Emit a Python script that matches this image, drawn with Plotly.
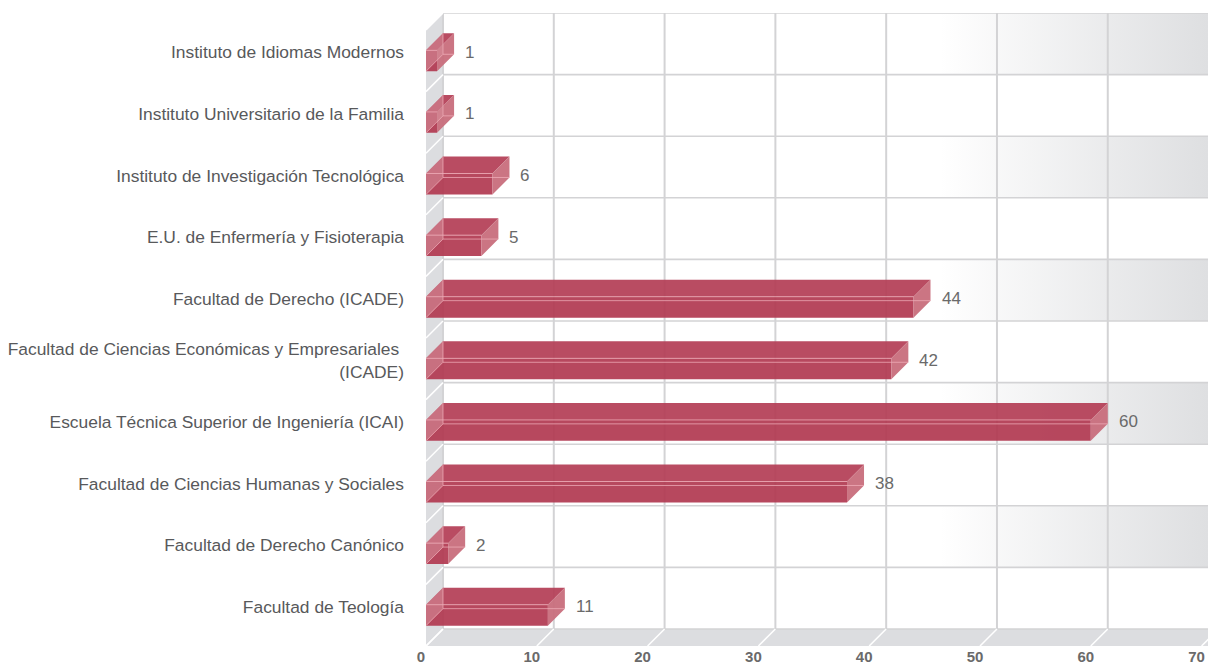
import plotly.graph_objects as go

# ---------------- data ----------------
categories = [
    "Instituto de Idiomas Modernos",
    "Instituto Universitario de la Familia",
    "Instituto de Investigación Tecnológica",
    "E.U. de Enfermería y Fisioterapia",
    "Facultad de Derecho (ICADE)",
    "Facultad de Ciencias Económicas y Empresariales\u00a0<br>(ICADE)",
    "Escuela Técnica Superior de Ingeniería (ICAI)",
    "Facultad de Ciencias Humanas y Sociales",
    "Facultad de Derecho Canónico",
    "Facultad de Teología",
]
values = [1, 1, 6, 5, 44, 42, 60, 38, 2, 11]
x_ticks = [0, 10, 20, 30, 40, 50, 60, 70]

# ---------------- geometry (pseudo 3D) ----------------
X_MAX = 70.58          # visible x range of the front plane
DX = 1.534             # depth offset along x (data units)
DY = 0.276             # depth offset along y (category units)
BAR_H = 0.34           # bar thickness (category units)
N = len(categories)
Y_MIN, Y_MAX = -0.5, N - 0.5 + DY
GRAD_START = 46.4

FLOOR = "#dcdde0"
GRID = "#d3d3d5"
BAR_FRONT = "rgba(178,58,82,0.93)"
BAR_TOP = "rgba(180,62,86,0.93)"
BAR_SIDE = "rgba(200,110,124,0.95)"
BAR_LEFT = "rgba(214,140,152,0.6)"
BAR_EDGE = "rgba(240,175,185,0.75)"

fig = go.Figure()


def poly(xs, ys, color, **kw):
    fig.add_trace(go.Scatter(x=xs, y=ys, mode="lines", fill="toself",
                             fillcolor=color, line=dict(width=0),
                             hoverinfo="skip", showlegend=False, **kw))


def lines(xs, ys, color, width):
    fig.add_trace(go.Scatter(x=xs, y=ys, mode="lines",
                             line=dict(color=color, width=width),
                             hoverinfo="skip", showlegend=False))


# floor
poly([0, X_MAX + 5, X_MAX + 5 + DX, DX, 0],
     [Y_MIN, Y_MIN, Y_MIN + DY, Y_MIN + DY, Y_MIN], FLOOR)
# left wall
poly([0, 0, DX, DX, 0],
     [Y_MIN, N - 0.5, N - 0.5 + DY, Y_MIN + DY, Y_MIN], FLOOR)

# alternating shaded bands on back wall (top band first)
for i in range(0, N, 2):
    k = N - 1 - i
    y0, y1 = k - 0.5 + DY, k + 0.5 + DY
    fig.add_trace(go.Scatter(
        x=[GRAD_START, X_MAX, X_MAX, GRAD_START, GRAD_START],
        y=[y0, y0, y1, y1, y0], mode="lines", fill="toself",
        line=dict(width=0),
        fillgradient=dict(type="horizontal",
                          colorscale=[[0, "rgba(255,255,255,1)"],
                                      [1, "rgb(222,223,225)"]]),
        hoverinfo="skip", showlegend=False))

# back-wall grid
gx, gy = [], []
for v in x_ticks:
    gx += [v + DX, v + DX, None]
    gy += [Y_MIN + DY, Y_MAX, None]
lines(gx, gy, GRID, 2)
hx, hy = [], []
for k in range(N + 1):
    hx += [DX, X_MAX + 5, None]
    hy += [k - 0.5 + DY, k - 0.5 + DY, None]
lines(hx, hy, GRID, 1.6)

# white diagonals on left wall and floor
wx, wy = [], []
for k in range(N + 1):
    wx += [0, DX, None]
    wy += [k - 0.5, k - 0.5 + DY, None]
for v in x_ticks:
    wx += [v, v + DX, None]
    wy += [Y_MIN, Y_MIN + DY, None]
lines(wx, wy, "white", 1.5)

# bars
fx, fy, tx, ty, sx, sy, lx, ly, ex, ey = ([] for _ in range(10))
for i, v in enumerate(values):
    k = N - 1 - i
    yb, yt = k - BAR_H / 2, k + BAR_H / 2
    fx += [0, v, v, 0, 0, None]
    fy += [yb, yb, yt, yt, yb, None]
    tx += [0, v, v + DX, DX, 0, None]
    ty += [yt, yt, yt + DY, yt + DY, yt, None]
    sx += [v, v + DX, v + DX, v, v, None]
    sy += [yb, yb + DY, yt + DY, yt, yb, None]
    lx += [0, DX, DX, 0, 0, None]
    ly += [yb, yb + DY, yt + DY, yt, yb, None]
    # visible edges (back face outline seen through, front top edge)
    ex += [DX, v + DX, None, DX, DX, None, 0, v, None, 0, DX, None]
    ey += [yb + DY, yb + DY, None, yb + DY, yt + DY, None, yt, yt, None,
           yb, yb + DY, None]
poly(fx, fy, BAR_FRONT)
poly(tx, ty, BAR_TOP)
poly(sx, sy, BAR_SIDE)
poly(lx, ly, BAR_LEFT)
lines(ex, ey, BAR_EDGE, 1)

# value labels
for i, v in enumerate(values):
    k = N - 1 - i
    fig.add_annotation(x=v + DX, y=k + DY / 2, text=str(v), showarrow=False,
                       xanchor="left", yanchor="middle", xshift=9,
                       font=dict(family="Liberation Sans", size=17,
                                 color="#6a6a6a"))

fig.update_layout(
    width=1208, height=666,
    margin=dict(l=426, r=0, t=13, b=20, autoexpand=False),
    paper_bgcolor="white", plot_bgcolor="white",
    showlegend=False,
    xaxis=dict(range=[0, X_MAX], tickvals=x_ticks,
               ticktext=[str(t) for t in x_ticks],
               showgrid=False, zeroline=False, showline=False, ticks="",
               automargin=False,
               ticklabelshift=-5, ticklabelstandoff=0,
               tickfont=dict(family="Liberation Sans", size=15,
                             color="#6a6a6a", weight="bold"),
               fixedrange=True),
    yaxis=dict(range=[Y_MIN, Y_MAX],
               tickvals=[N - 1 - i + DY / 2 for i in range(N)],
               ticktext=categories,
               showgrid=False, zeroline=False, showline=False, ticks="",
               automargin=False,
               ticklabelstandoff=21,
               tickfont=dict(family="Liberation Sans", size=17.4,
                             color="#58595b"),
               fixedrange=True),
)

fig.write_html(
    "out.html",
    config={"displayModeBar": False},
    post_script=("document.body.style.margin='0';"
                 "document.documentElement.style.overflow='hidden';"
                 "document.body.style.overflow='hidden';"),
)
